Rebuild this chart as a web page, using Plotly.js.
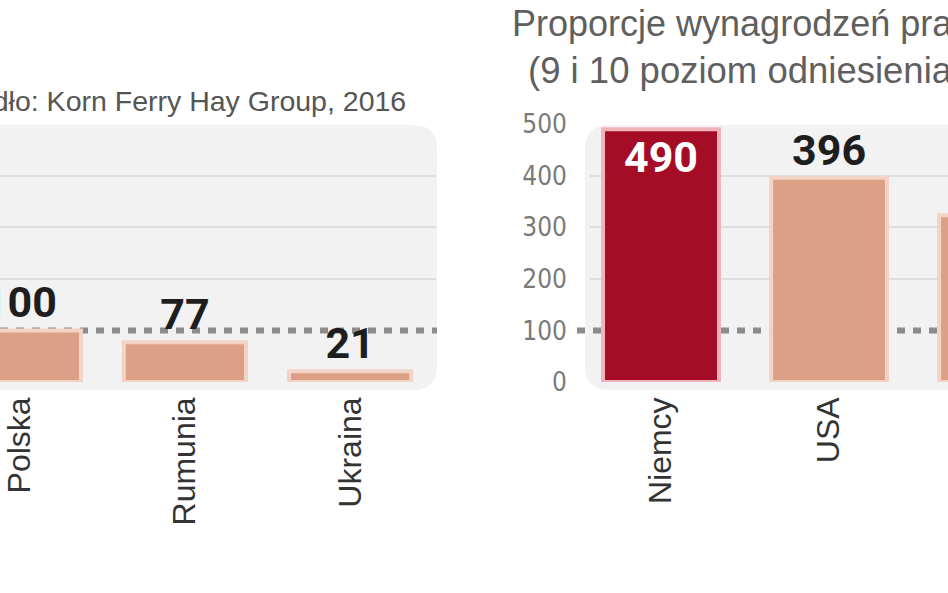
<!DOCTYPE html>
<html>
<head>
<meta charset="utf-8">
<script src="https://cdn.plot.ly/plotly-3.0.1.min.js"></script>
<style>html,body{margin:0;padding:0;background:#fff;}#chart{width:948px;height:593px;}</style>
</head>
<body>
<div id="chart"></div>
<script>
// ---- data ----
const leftCategories = ['Polska', 'Rumunia', 'Ukraina'];
const leftValues = [100, 77, 21];
const rightCategories = ['Niemcy', 'USA', 'Wielka Brytania'];
const rightValues = [490, 396, 323];
const rightHighlight = [true, false, false];
const yTickValues = [0, 100, 200, 300, 400, 500];
const yTickLabels = ['0', '100', '200', '300', '400', '500'];
const gridValues = [200, 300, 400];
const referenceLevel = 100;
const titleLine1 = 'Proporcje wynagrodzeń pra';
const titleLine2 = '(9 i 10 poziom odniesienia';
const sourceText = 'Źródło: Korn Ferry Hay Group, 2016';

// ---- styles ----
const W = 948, H = 593;
const px = v => v / W;
const py = v => 1 - v / H;
const SALMON = '#dca087', SALMON_LINE = '#f2d3c6';
const RED = '#a50d26', RED_LINE = '#f1b3ba';
const PANEL = '#f2f2f3';
const NUM_FONT = 'Roboto, Liberation Sans, sans-serif';
const TICK_FONT = 'Liberation Sans Narrow, DejaVu Sans Condensed, sans-serif';
const TXT_FONT = 'Liberation Sans, Arial, sans-serif';

function roundedRect(x0, y0, x1, y1, r) {
  const X = v => px(v).toFixed(5), Y = v => py(v).toFixed(5);
  return 'M' + X(x0 + r) + ',' + Y(y0) +
    ' L' + X(x1 - r) + ',' + Y(y0) +
    ' Q' + X(x1) + ',' + Y(y0) + ' ' + X(x1) + ',' + Y(y0 + r) +
    ' L' + X(x1) + ',' + Y(y1 - r) +
    ' Q' + X(x1) + ',' + Y(y1) + ' ' + X(x1 - r) + ',' + Y(y1) +
    ' L' + X(x0 + r) + ',' + Y(y1) +
    ' Q' + X(x0) + ',' + Y(y1) + ' ' + X(x0) + ',' + Y(y1 - r) +
    ' L' + X(x0) + ',' + Y(y0 + r) +
    ' Q' + X(x0) + ',' + Y(y0) + ' ' + X(x0 + r) + ',' + Y(y0) + ' Z';
}

const labelFont = {family: NUM_FONT, size: 43, color: '#1e1e1e', weight: 700};

const traces = [
  {
    type: 'bar', x: leftCategories, y: leftValues, xaxis: 'x', yaxis: 'y',
    width: 0.74,
    marker: {color: SALMON, line: {color: SALMON_LINE, width: 4}},
    text: leftValues.map(String), textposition: 'outside',
    textfont: labelFont, outsidetextfont: labelFont,
    constraintext: 'none', cliponaxis: false, hoverinfo: 'none'
  },
  {
    type: 'bar', x: rightCategories, y: rightValues, xaxis: 'x2', yaxis: 'y2',
    width: 0.69,
    marker: {
      color: rightHighlight.map(h => h ? RED : SALMON),
      line: {color: rightHighlight.map(h => h ? RED_LINE : SALMON_LINE), width: 4}
    },
    text: rightValues.map(String),
    textposition: rightHighlight.map(h => h ? 'inside' : 'outside'),
    insidetextanchor: 'end',
    textfont: labelFont,
    insidetextfont: Object.assign({}, labelFont, {color: '#ffffff'}),
    outsidetextfont: labelFont,
    constraintext: 'none', cliponaxis: false, hoverinfo: 'none'
  }
];

const yDomain = [1 - 382 / H, 1 - 124 / H];
const xTickFont = {family: TXT_FONT, size: 32, color: '#333333'};

const layout = {
  width: W, height: H,
  margin: {l: 0, r: 0, t: 0, b: 0},
  paper_bgcolor: '#ffffff', plot_bgcolor: 'rgba(0,0,0,0)',
  showlegend: false, bargap: 0.2,
  xaxis: {
    type: 'category', domain: [0, px(436)], range: [-0.12, 2.52], anchor: 'y',
    tickangle: -90, tickfont: xTickFont, showgrid: false, zeroline: false,
    showline: false, ticks: '', ticklabelstandoff: 8, fixedrange: true
  },
  yaxis: {
    domain: yDomain, range: [0, 500], anchor: 'x',
    tickvals: gridValues, showticklabels: false, showgrid: true,
    gridcolor: '#dedede', gridwidth: 2, zeroline: false, showline: false, ticks: '', fixedrange: true
  },
  xaxis2: {
    type: 'category', domain: [px(590), 1], range: [-0.4226, 1.708], anchor: 'y2',
    tickangle: -90, tickfont: xTickFont, showgrid: false, zeroline: false,
    showline: false, ticks: '', ticklabelstandoff: 8, fixedrange: true
  },
  yaxis2: {
    domain: yDomain, range: [0, 500], anchor: 'x2',
    tickvals: yTickValues, ticktext: yTickLabels,
    tickfont: {family: TICK_FONT, size: 26, color: '#7a7a7a'},
    showgrid: false, zeroline: false, showline: false, ticks: '', ticklabelstandoff: 22,
    minor: {tickvals: gridValues, showgrid: true, gridcolor: '#dedede', gridwidth: 2, ticks: ''},
    fixedrange: true
  },
  shapes: [
    {type: 'path', xref: 'paper', yref: 'paper', layer: 'below',
     path: roundedRect(-30, 125, 437, 390, 24), fillcolor: PANEL, line: {width: 0}},
    {type: 'path', xref: 'paper', yref: 'paper', layer: 'below',
     path: roundedRect(585, 125, 990, 390, 24), fillcolor: PANEL, line: {width: 0}},
    {type: 'line', xref: 'paper', yref: 'y', layer: 'below',
     x0: 0, x1: px(437), y0: referenceLevel, y1: referenceLevel,
     line: {color: '#8c8c8c', width: 6, dash: '8px,8px'}},
    {type: 'line', xref: 'paper', yref: 'y2', layer: 'below',
     x0: px(577), x1: 1, y0: referenceLevel, y1: referenceLevel,
     line: {color: '#8c8c8c', width: 6, dash: '8px,8px'}}
  ],
  annotations: [
    {text: titleLine1, xref: 'paper', yref: 'paper', x: px(510), y: py(24),
     xanchor: 'left', yanchor: 'middle', showarrow: false,
     font: {family: TXT_FONT, size: 36, color: '#5f5f5f'}},
    {text: titleLine2, xref: 'paper', yref: 'paper', x: px(526), y: py(70),
     xanchor: 'left', yanchor: 'middle', showarrow: false,
     font: {family: TXT_FONT, size: 36.5, color: '#5f5f5f'}},
    {text: sourceText, xref: 'paper', yref: 'paper', x: px(408), y: py(101),
     xanchor: 'right', yanchor: 'middle', showarrow: false,
     font: {family: TXT_FONT, size: 28.5, color: '#555555'}}
  ]
};

Plotly.newPlot('chart', traces, layout, {displayModeBar: false, staticPlot: true});
</script>
</body>
</html>
